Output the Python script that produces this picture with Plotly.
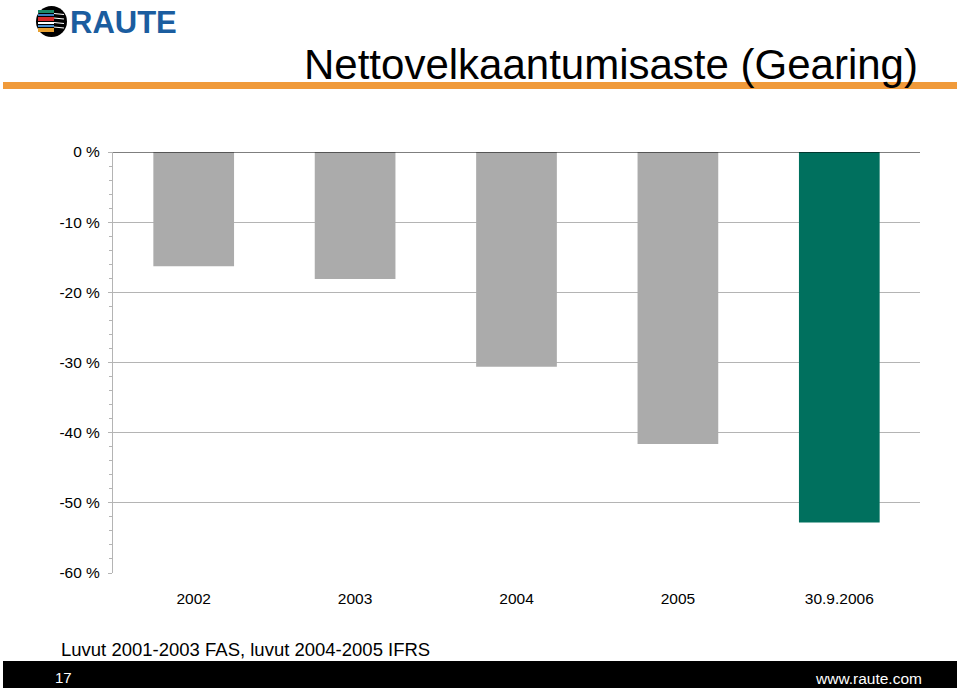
import plotly.graph_objects as go

categories = ["2002", "2003", "2004", "2005", "30.9.2006"]
gearing = [-16.3, -18.1, -30.6, -41.6, -52.8]
bar_colors = ["#ababab", "#ababab", "#ababab", "#ababab", "#00705e"]
tick_vals = [0, -10, -20, -30, -40, -50, -60]
tick_text = ["0 %", "-10 %", "-20 %", "-30 %", "-40 %", "-50 %", "-60 %"]

W, H = 960, 689
L, R, T, B = 113, 40, 152, 116
PW, PH = W - L - R, H - T - B


def px(x):
    return (x - L) / PW


def py(y):
    return (H - B - y) / PH


fig = go.Figure()
fig.add_trace(go.Bar(x=categories, y=gearing, marker=dict(color=bar_colors, line=dict(width=0)),
                     width=0.5, hoverinfo="x+y"))

shapes = []
# zero line
shapes.append(dict(type="line", xref="paper", yref="y", x0=0, x1=1, y0=0, y1=0,
                   line=dict(color="black", width=1.2), layer="above"))
# orange header line
shapes.append(dict(type="rect", xref="paper", yref="paper", x0=px(3), x1=px(957), y0=py(89), y1=py(82),
                   fillcolor="#f09a3a", line=dict(width=0)))
# black footer
shapes.append(dict(type="rect", xref="paper", yref="paper", x0=px(3), x1=px(957), y0=py(688), y1=py(661),
                   fillcolor="black", line=dict(width=0)))
# logo circle
shapes.append(dict(type="circle", xref="paper", yref="paper", x0=px(36), x1=px(67), y0=py(37), y1=py(6),
                   fillcolor="black", line=dict(width=0)))
stripe = [(10, 13, "#1a8a6a"), (14, 16, "#3a7ec0"), (17, 21, "#d42a2a"), (22, 24, "#ffffff"),
          (25, 27, "#4a90d0"), (28, 32, "#e8a030")]
for y0, y1, c in stripe:
    shapes.append(dict(type="rect", xref="paper", yref="paper", x0=px(38), x1=px(54), y0=py(y1), y1=py(y0),
                       fillcolor=c, line=dict(width=0)))
for yy in (13.5, 18, 22.5, 27):
    shapes.append(dict(type="line", xref="paper", yref="paper", x0=px(54), x1=px(64), y0=py(yy), y1=py(yy + 1),
                       line=dict(color="white", width=1.2)))

annotations = [
    dict(text="Nettovelkaantumisaste (Gearing)", x=px(302), y=py(65), xref="paper", yref="paper",
         xanchor="left", yanchor="middle", showarrow=False,
         font=dict(family="Liberation Sans, Arial", size=42, color="black")),
    dict(text="<b>RAUTE</b>", x=px(68), y=py(22), xref="paper", yref="paper",
         xanchor="left", yanchor="middle", showarrow=False,
         font=dict(family="Liberation Sans Narrow, Liberation Sans, Arial", size=31, color="#1b5d9f")),
    dict(text="Luvut 2001-2003 FAS, luvut 2004-2005 IFRS", x=px(59), y=py(649), xref="paper", yref="paper",
         xanchor="left", yanchor="middle", showarrow=False,
         font=dict(family="Liberation Sans, Arial", size=18.5, color="black")),
    dict(text="17", x=px(53), y=py(677), xref="paper", yref="paper",
         xanchor="left", yanchor="middle", showarrow=False,
         font=dict(family="Liberation Sans, Arial", size=15, color="white")),
    dict(text="www.raute.com", x=px(924), y=py(678), xref="paper", yref="paper",
         xanchor="right", yanchor="middle", showarrow=False,
         font=dict(family="Liberation Sans, Arial", size=15.5, color="white")),
]

fig.update_layout(
    width=W, height=H,
    margin=dict(l=L, r=R, t=T, b=B, pad=0),
    paper_bgcolor="white", plot_bgcolor="white",
    showlegend=False,
    bargap=0.5,
    shapes=shapes,
    annotations=annotations,
    font=dict(family="Liberation Sans, Arial", color="black"),
    xaxis=dict(showgrid=False, showline=False, ticks="", zeroline=False,
               tickfont=dict(size=15.5, color="black"), ticklabelstandoff=14),
    yaxis=dict(range=[-60, 0], tickvals=tick_vals, ticktext=tick_text,
               showgrid=True, gridcolor="#b4b4b4", gridwidth=1,
               showline=True, linecolor="#b4b4b4", linewidth=1,
               ticks="outside", ticklen=4, tickcolor="#b4b4b4",
               zeroline=False, tickfont=dict(size=15.5, color="black"), ticklabelstandoff=5,
               minor=dict(dtick=2, ticks="outside", ticklen=3, tickcolor="#b4b4b4", showgrid=False)),
)

fig.write_html("out.html")
